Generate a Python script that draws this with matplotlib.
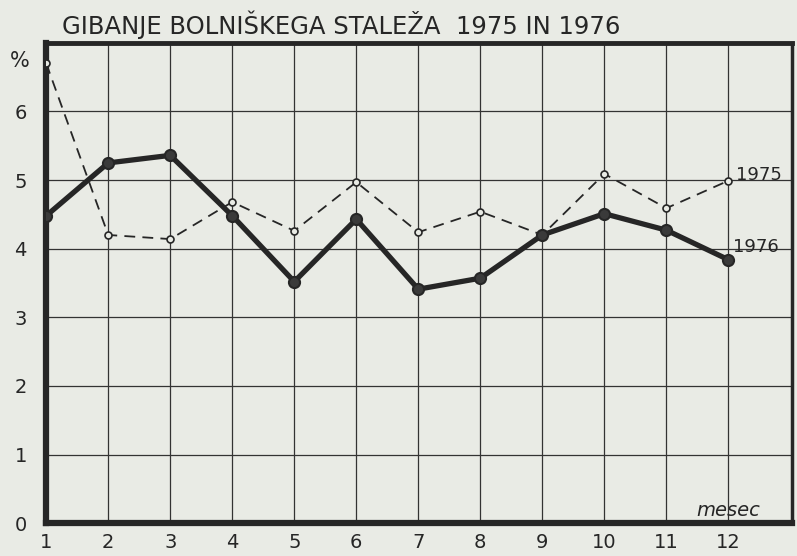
import matplotlib
matplotlib.use('Agg')
from matplotlib import pyplot as plt

# monthly sick-leave rate (%)
months = [1, 2, 3, 4, 5, 6, 7, 8, 9, 10, 11, 12]
stalez_1975 = [6.7, 4.2, 4.14, 4.68, 4.26, 4.97, 4.24, 4.54, 4.2, 5.09, 4.59, 4.99]
stalez_1976 = [4.48, 5.25, 5.36, 4.48, 3.52, 4.43, 3.41, 3.57, 4.2, 4.51, 4.27, 3.84]
y_ticks = [0, 1, 2, 3, 4, 5, 6]

paper = '#e9ebe5'
ink = '#262626'

fig = plt.figure(figsize=(7.97, 5.56), dpi=100, facecolor=paper)
ax = fig.add_axes([0.058, 0.059, 0.936, 0.864])
ax.set_facecolor(paper)

# 1975 - thin dashed with open circles
ax.plot(months, stalez_1975, color=ink, lw=1.3, ls=(0, (6, 4)),
        marker='o', ms=5, mfc=paper, mec=ink, mew=1.2, zorder=3)
# 1976 - heavy solid with filled dots
ax.plot(months, stalez_1976, color=ink, lw=3.8, solid_capstyle='round',
        marker='o', ms=8, mfc='#3a3a3a', mec=ink, mew=1.5, zorder=4)

ax.set_xlim(1, 13.03)
ax.set_ylim(0, 7)
ax.set_xticks(months)
ax.set_yticks(y_ticks)
ax.grid(True, color='#333333', lw=0.9)
ax.tick_params(length=0, labelsize=14, colors=ink)
ax.tick_params(axis='x', pad=7)
ax.tick_params(axis='y', pad=14)

for side, w in [('left', 4.5), ('bottom', 4.5), ('top', 3.5), ('right', 2.5)]:
    ax.spines[side].set_linewidth(w)
    ax.spines[side].set_color(ink)

ax.text(-0.035, 0.962, '%', transform=ax.transAxes, fontsize=15,
        color=ink, ha='center', va='center')
ax.text(12.12, 5.07, '1975', fontsize=13, color=ink, va='center')
ax.text(12.08, 4.03, '1976', fontsize=13, color=ink, va='center')
ax.text(12.0, 0.19, 'mesec', fontsize=14, color=ink, style='italic',
        ha='center', va='center')

fig.text(0.078, 0.955, 'GIBANJE BOLNIŠKEGA STALEŽA  1975 IN 1976',
         fontsize=17.5, color=ink, va='center')

fig.savefig('out.png', dpi=100, facecolor=paper)
